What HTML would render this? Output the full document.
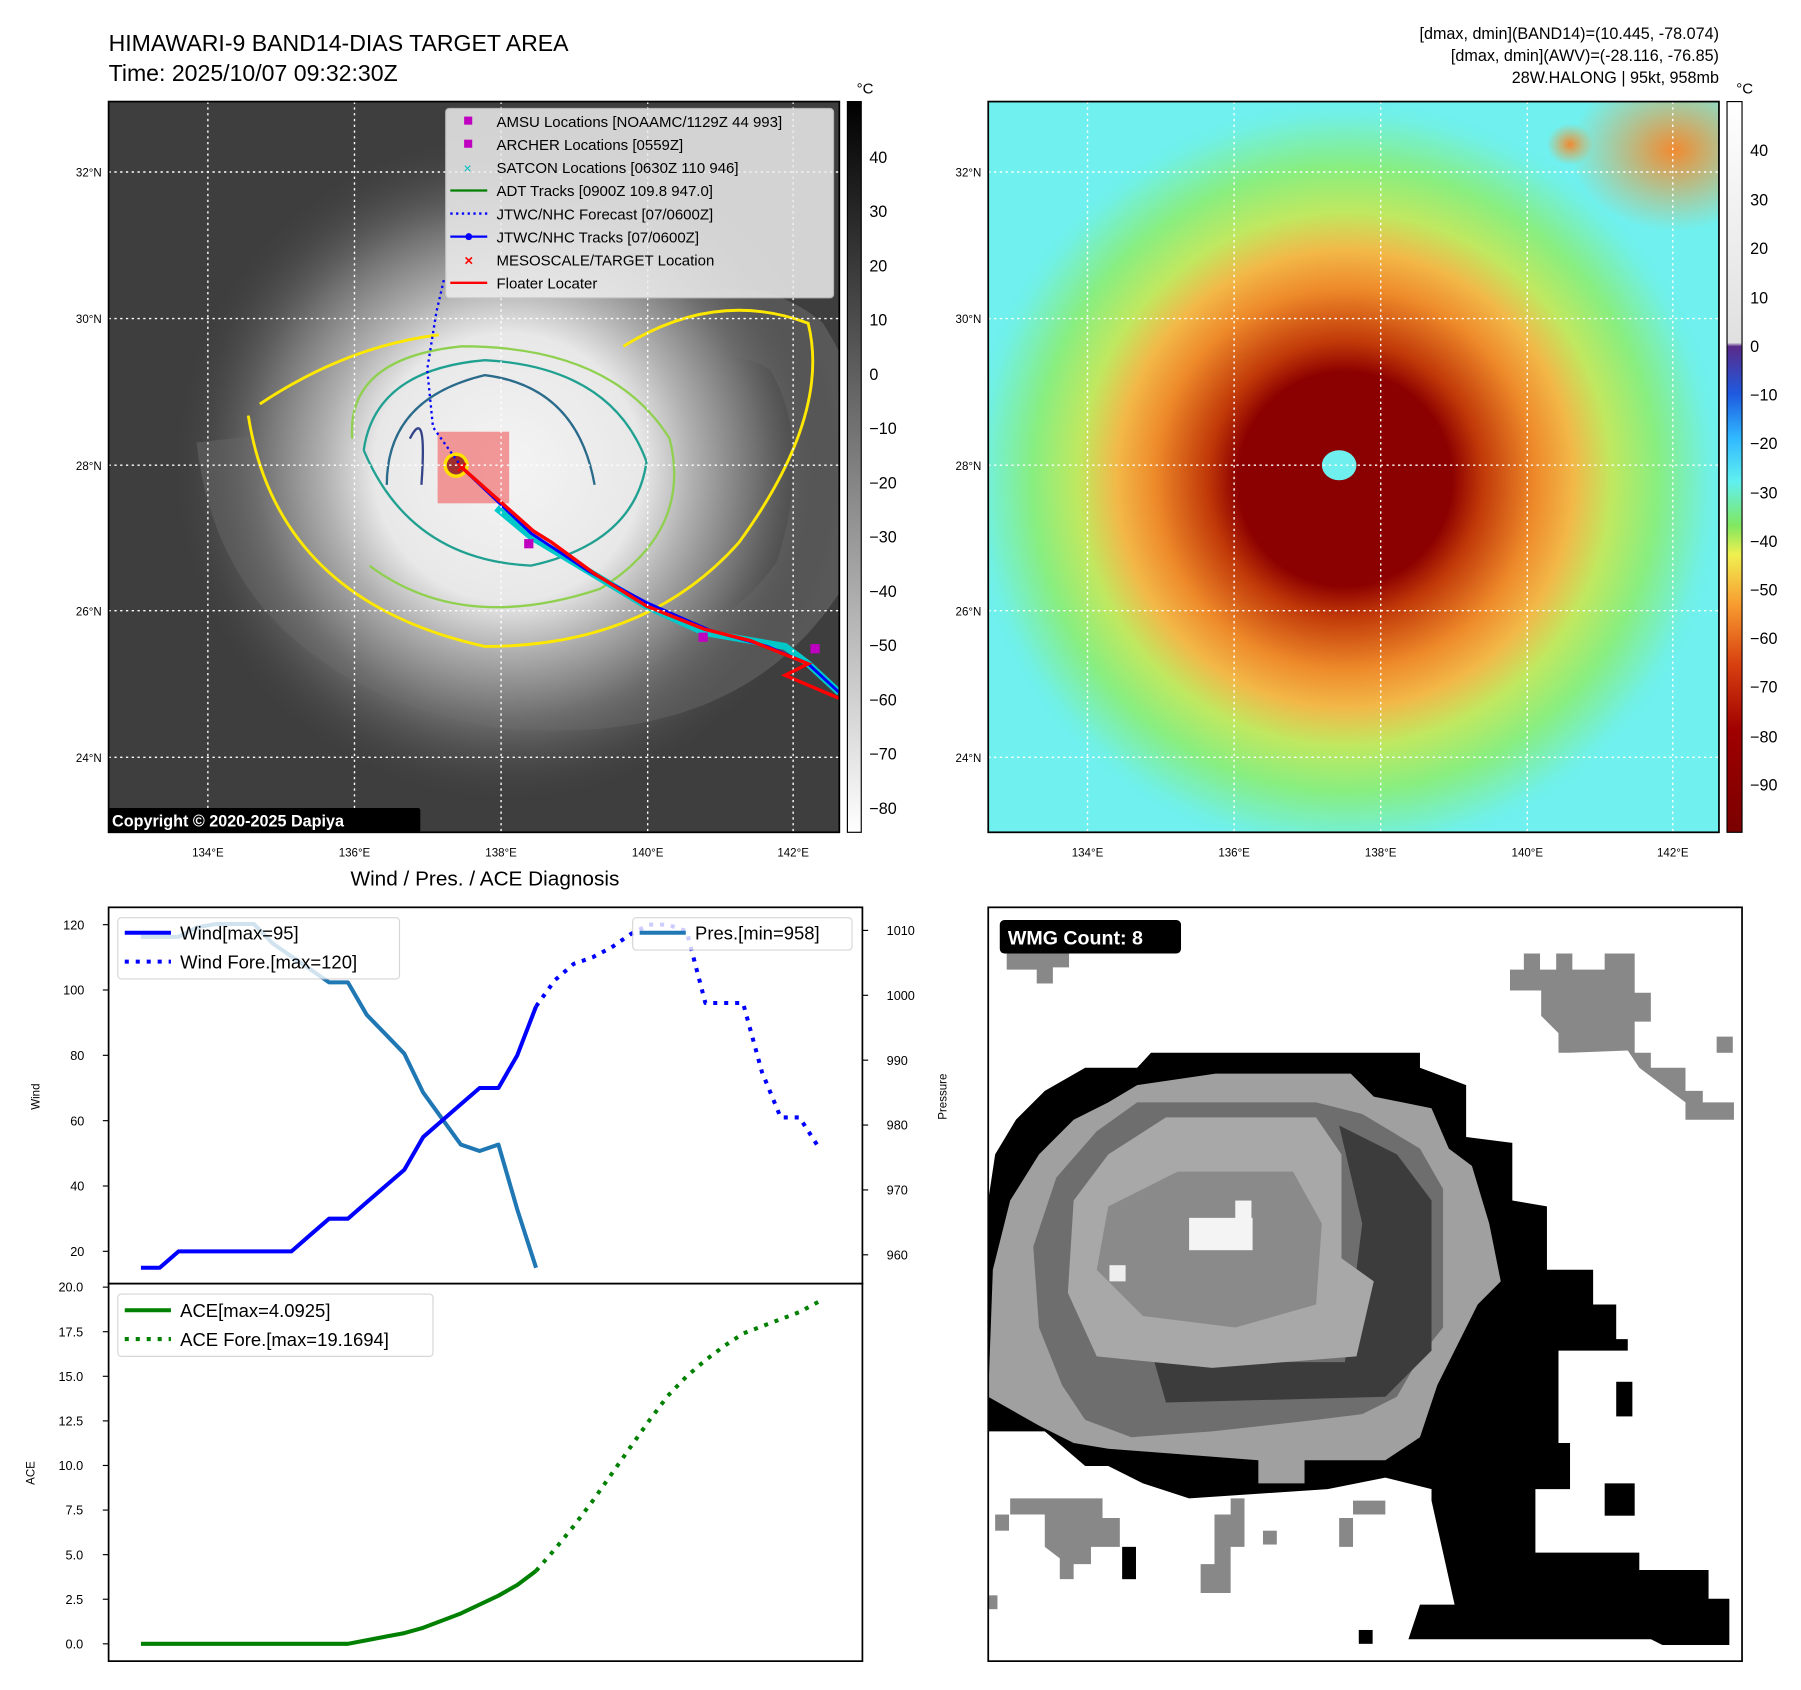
<!DOCTYPE html>
<html><head><meta charset="utf-8"><style>
html,body{margin:0;padding:0;background:#fff}
svg{display:block}
text{font-family:"Liberation Sans","DejaVu Sans",sans-serif}
</style></head><body>
<svg id="fig" width="1801" height="1690" viewBox="0 0 1560 1464" xmlns="http://www.w3.org/2000/svg">
<defs>
<radialGradient id="irL" cx="440" cy="405" r="290" gradientUnits="userSpaceOnUse">
<stop offset="0" stop-color="#f4f4f4"/><stop offset="0.4" stop-color="#e8e8e8"/><stop offset="0.55" stop-color="#b0b0b0"/><stop offset="0.75" stop-color="#6e6e6e"/><stop offset="1" stop-color="#444" stop-opacity="0"/>
</radialGradient>
<radialGradient id="irR" cx="1165" cy="415" r="330" gradientUnits="userSpaceOnUse">
<stop offset="0" stop-color="#8b0000"/><stop offset="0.28" stop-color="#8b0000"/><stop offset="0.36" stop-color="#c03808"/><stop offset="0.5" stop-color="#ee8a2a"/><stop offset="0.6" stop-color="#f2b848"/><stop offset="0.7" stop-color="#c0e860"/><stop offset="0.82" stop-color="#88ee80"/><stop offset="0.95" stop-color="#72f0e0"/><stop offset="1" stop-color="#70f0ee" stop-opacity="0"/>
</radialGradient>
<radialGradient id="orng" cx="0.5" cy="0.5" r="0.5"><stop offset="0" stop-color="#f08a30"/><stop offset="1" stop-color="#f0a040" stop-opacity="0"/></radialGradient>
<linearGradient id="cb1" x1="0" y1="0" x2="0" y2="1"><stop offset="0" stop-color="#000"/><stop offset="1" stop-color="#fff"/></linearGradient>
<linearGradient id="cb2" x1="0" y1="0" x2="0" y2="1">
<stop offset="0" stop-color="#fff"/><stop offset="0.33" stop-color="#e0e0e0"/><stop offset="0.335" stop-color="#5a2a8a"/><stop offset="0.4" stop-color="#1e5ae0"/><stop offset="0.46" stop-color="#30b8ff"/><stop offset="0.52" stop-color="#60f0f0"/><stop offset="0.58" stop-color="#80e860"/><stop offset="0.62" stop-color="#f0f050"/><stop offset="0.69" stop-color="#f89a30"/><stop offset="0.77" stop-color="#d84010"/><stop offset="0.86" stop-color="#a00000"/><stop offset="1" stop-color="#7a0000"/>
</linearGradient>
<clipPath id="clipL"><rect x="94" y="88" width="633" height="633"/></clipPath>
<clipPath id="clipR"><rect x="856" y="88" width="633" height="633"/></clipPath>
</defs>

<text x="94" y="44" font-size="20">HIMAWARI-9 BAND14-DIAS TARGET AREA</text>
<text x="94" y="70" font-size="20">Time: 2025/10/07 09:32:30Z</text>
<g font-size="14" text-anchor="end">
<text x="1489" y="34">[dmax, dmin](BAND14)=(10.445, -78.074)</text>
<text x="1489" y="53">[dmax, dmin](AWV)=(-28.116, -76.85)</text>
<text x="1489" y="72">28W.HALONG | 95kt, 958mb</text>
</g>

<!-- LEFT IR PANEL -->
<g clip-path="url(#clipL)">
<rect x="94" y="88" width="633" height="633" fill="#3e3e3e"/>
<path d="M200 380 Q220 560 430 600 Q620 620 700 500 Q740 380 690 300 Q640 260 560 300" fill="none" stroke="#6a6a6a" stroke-width="60" opacity="0.6"/>
<rect x="94" y="88" width="633" height="633" fill="url(#irL)"/>
<path d="M215 360 Q240 520 420 560 Q560 560 640 470 Q720 360 700 280 Q620 250 540 300" fill="none" stroke="#ffe800" stroke-width="2.5"/>
<path d="M225 350 Q300 300 380 290" fill="none" stroke="#ffe800" stroke-width="2.5"/>
<path d="M305 380 Q300 310 400 300 Q530 300 580 380 Q600 460 520 510 Q400 550 320 490" fill="none" stroke="#90d050" stroke-width="2"/>
<path d="M315 390 Q325 320 420 312 Q530 318 560 400 Q550 470 460 490 Q355 485 315 390" fill="none" stroke="#20a090" stroke-width="2"/>
<path d="M335 420 Q335 345 420 325 Q500 335 515 420" fill="none" stroke="#2a6a8a" stroke-width="2"/>
<path d="M355 380 Q370 350 365 420" fill="none" stroke="#334488" stroke-width="2"/>
<rect x="379" y="374" width="62" height="62" fill="#f08080" opacity="0.8"/>
<circle cx="395" cy="403" r="11" fill="#ffe000"/><circle cx="395" cy="403" r="8" fill="#a03030"/>
<polyline points="400,405 375,370 370,320 378,270 385,240" fill="none" stroke="#00f" stroke-width="2" stroke-dasharray="2,3"/>
<polyline points="430,440 460,465 510,495 560,525 610,548 680,560 700,575 727,600" fill="none" stroke="#00c8c8" stroke-width="6"/>
<polyline points="400,405 460,462 510,495 560,522 615,546 665,560 700,575 727,600" fill="none" stroke="#00f" stroke-width="2.5"/>
<polyline points="400,405 462,460 478,470 515,497 560,525 610,545 650,555 700,575 680,585 727,605" fill="none" stroke="#f00" stroke-width="3"/>
<rect x="454" y="467" width="8" height="8" fill="#c000c0"/><rect x="605" y="548" width="8" height="8" fill="#c000c0"/><rect x="702" y="558" width="8" height="8" fill="#c000c0"/>
<text x="400" y="410" font-size="16" fill="#f00" text-anchor="middle" font-weight="bold">×</text>
<g stroke="#fff" stroke-width="1.2" stroke-dasharray="2,3">
<line x1="180" y1="88" x2="180" y2="721"/><line x1="307" y1="88" x2="307" y2="721"/><line x1="434" y1="88" x2="434" y2="721"/><line x1="561" y1="88" x2="561" y2="721"/><line x1="687" y1="88" x2="687" y2="721"/>
<line x1="94" y1="149" x2="727" y2="149"/><line x1="94" y1="276" x2="727" y2="276"/><line x1="94" y1="403" x2="727" y2="403"/><line x1="94" y1="529" x2="727" y2="529"/><line x1="94" y1="656" x2="727" y2="656"/>
</g>
</g>
<rect x="94" y="88" width="633" height="633" fill="none" stroke="#000" stroke-width="1.5"/>
<g>
<rect x="386" y="94" width="336" height="164" fill="#eee" opacity="0.85" stroke="#ccc" rx="3"/>
<g font-size="13">
<rect x="402" y="101" width="7" height="7" fill="#c000c0"/><text x="430" y="110">AMSU Locations [NOAAMC/1129Z 44 993]</text>
<rect x="402" y="121" width="7" height="7" fill="#c000c0"/><text x="430" y="130">ARCHER Locations [0559Z]</text>
<text x="405" y="150" fill="#00c0c0" font-size="12" text-anchor="middle">×</text><text x="430" y="150">SATCON Locations [0630Z 110 946]</text>
<line x1="390" y1="165" x2="422" y2="165" stroke="green" stroke-width="2"/><text x="430" y="170">ADT Tracks [0900Z 109.8 947.0]</text>
<line x1="390" y1="185" x2="422" y2="185" stroke="#00f" stroke-width="2" stroke-dasharray="2,3"/><text x="430" y="190">JTWC/NHC Forecast [07/0600Z]</text>
<line x1="390" y1="205" x2="422" y2="205" stroke="#00f" stroke-width="2"/><circle cx="406" cy="205" r="3" fill="#00f"/><text x="430" y="210">JTWC/NHC Tracks [07/0600Z]</text>
<text x="406" y="230" fill="#f00" font-weight="bold" text-anchor="middle">×</text><text x="430" y="230">MESOSCALE/TARGET Location</text>
<line x1="390" y1="245" x2="422" y2="245" stroke="#f00" stroke-width="2"/><text x="430" y="250">Floater Locater</text>
</g></g>
<rect x="94" y="700" width="270" height="21" fill="#000" rx="2"/>
<text x="97" y="716" font-size="14" font-weight="bold" fill="#fff">Copyright © 2020-2025 Dapiya</text>
<g font-size="10" text-anchor="end">
<text x="88" y="153">32°N</text><text x="88" y="280">30°N</text><text x="88" y="407">28°N</text><text x="88" y="533">26°N</text><text x="88" y="660">24°N</text></g>
<g font-size="10" text-anchor="middle">
<text x="180" y="742">134°E</text><text x="307" y="742">136°E</text><text x="434" y="742">138°E</text><text x="561" y="742">140°E</text><text x="687" y="742">142°E</text></g>
<rect x="734" y="88" width="12" height="633" fill="url(#cb1)" stroke="#000" stroke-width="1"/>
<text x="742" y="81" font-size="13">°C</text>
<g font-size="14">
<text x="753" y="141">40</text><text x="753" y="188">30</text><text x="753" y="235">20</text><text x="753" y="282">10</text><text x="753" y="329">0</text><text x="753" y="376">−10</text><text x="753" y="423">−20</text><text x="753" y="470">−30</text><text x="753" y="517">−40</text><text x="753" y="564">−50</text><text x="753" y="611">−60</text><text x="753" y="658">−70</text><text x="753" y="705">−80</text></g>

<!-- RIGHT AWV PANEL -->
<g clip-path="url(#clipR)">
<rect x="856" y="88" width="633" height="633" fill="#70f0ee"/>
<rect x="856" y="88" width="633" height="633" fill="url(#irR)"/>
<ellipse cx="1450" cy="130" rx="90" ry="70" fill="url(#orng)"/>
<ellipse cx="1360" cy="125" rx="20" ry="18" fill="url(#orng)"/>
<ellipse cx="1160" cy="403" rx="15" ry="13" fill="#6ff0ee"/>
<g stroke="#fff" stroke-width="1.2" stroke-dasharray="2,3">
<line x1="942" y1="88" x2="942" y2="721"/><line x1="1069" y1="88" x2="1069" y2="721"/><line x1="1196" y1="88" x2="1196" y2="721"/><line x1="1323" y1="88" x2="1323" y2="721"/><line x1="1449" y1="88" x2="1449" y2="721"/>
<line x1="856" y1="149" x2="1489" y2="149"/><line x1="856" y1="276" x2="1489" y2="276"/><line x1="856" y1="403" x2="1489" y2="403"/><line x1="856" y1="529" x2="1489" y2="529"/><line x1="856" y1="656" x2="1489" y2="656"/>
</g></g>
<rect x="856" y="88" width="633" height="633" fill="none" stroke="#000" stroke-width="1.5"/>
<g font-size="10" text-anchor="end">
<text x="850" y="153">32°N</text><text x="850" y="280">30°N</text><text x="850" y="407">28°N</text><text x="850" y="533">26°N</text><text x="850" y="660">24°N</text></g>
<g font-size="10" text-anchor="middle">
<text x="942" y="742">134°E</text><text x="1069" y="742">136°E</text><text x="1196" y="742">138°E</text><text x="1323" y="742">140°E</text><text x="1449" y="742">142°E</text></g>
<rect x="1496" y="88" width="13" height="633" fill="url(#cb2)" stroke="#000" stroke-width="1"/>
<text x="1504" y="81" font-size="13">°C</text>
<g font-size="14">
<text x="1516" y="135">40</text><text x="1516" y="178">30</text><text x="1516" y="220">20</text><text x="1516" y="263">10</text><text x="1516" y="305">0</text><text x="1516" y="347">−10</text><text x="1516" y="389">−20</text><text x="1516" y="432">−30</text><text x="1516" y="474">−40</text><text x="1516" y="516">−50</text><text x="1516" y="558">−60</text><text x="1516" y="600">−70</text><text x="1516" y="643">−80</text><text x="1516" y="685">−90</text></g>

<!-- DIAGNOSIS CHARTS -->
<text x="420" y="767" font-size="18" text-anchor="middle">Wind / Pres. / ACE Diagnosis</text>
<rect x="94" y="786" width="653" height="326" fill="#fff" stroke="#000" stroke-width="1.5"/>
<rect x="94" y="1112" width="653" height="327" fill="#fff" stroke="#000" stroke-width="1.5"/>
<g id="marks"></g>
<text transform="translate(34,950) rotate(-90)" font-size="10" text-anchor="middle">Wind</text>
<text transform="translate(820,950) rotate(-90)" font-size="10" text-anchor="middle">Pressure</text>
<text transform="translate(30,1276) rotate(-90)" font-size="10" text-anchor="middle">ACE</text>
<g>
<rect x="102" y="795" width="244" height="53" fill="#fff" opacity="0.8" stroke="#ccc" rx="3"/>
<line x1="108" y1="808" x2="148" y2="808" stroke="#00f" stroke-width="3.5"/><text x="156" y="814" font-size="16">Wind[max=95]</text>
<line x1="108" y1="833" x2="148" y2="833" stroke="#00f" stroke-width="3.5" stroke-dasharray="3.5,6"/><text x="156" y="839" font-size="16">Wind Fore.[max=120]</text>
</g>
<g>
<rect x="548" y="795" width="190" height="28" fill="#fff" opacity="0.8" stroke="#ccc" rx="3"/>
<line x1="554" y1="808" x2="594" y2="808" stroke="#1f77b4" stroke-width="3.5"/><text x="602" y="814" font-size="16">Pres.[min=958]</text>
</g>
<g>
<rect x="102" y="1121" width="273" height="54" fill="#fff" opacity="0.8" stroke="#ccc" rx="3"/>
<line x1="108" y1="1135" x2="148" y2="1135" stroke="green" stroke-width="3.5"/><text x="156" y="1141" font-size="16">ACE[max=4.0925]</text>
<line x1="108" y1="1160" x2="148" y2="1160" stroke="green" stroke-width="3.5" stroke-dasharray="3.5,6"/><text x="156" y="1166" font-size="16">ACE Fore.[max=19.1694]</text>
</g>

<!-- WMG PANEL -->
<g>
<rect x="856" y="786" width="653" height="653" fill="#fff"/>
<polygon fill="#000" points="997,912 1230,912 1230,925 1270,940 1270,985 1310,990 1310,1040 1340,1045 1340,1100 1380,1100 1380,1130 1400,1130 1400,1160 1410,1160 1410,1170 1350,1170 1350,1250 1360,1250 1360,1290 1330,1290 1330,1345 1380,1345 1420,1345 1420,1360 1480,1360 1480,1385 1498,1385 1498,1425 1440,1425 1430,1420 1380,1420 1220,1420 1230,1390 1260,1390 1240,1300 1240,1290 1200,1280 1150,1290 1030,1298 990,1285 960,1270 940,1270 905,1240 856,1240 856,1040 862,1000 880,970 905,945 940,925 985,925"/>
<polygon fill="#a0a0a0" points="1053,930 1170,930 1190,950 1240,960 1255,995 1275,1010 1290,1060 1300,1110 1280,1130 1260,1170 1245,1200 1230,1245 1200,1265 1130,1265 1130,1285 1090,1285 1090,1265 960,1255 930,1250 900,1235 856,1210 860,1100 875,1040 900,1000 930,970 960,955 985,940"/>
<polygon fill="#6e6e6e" points="985,955 1140,955 1180,965 1230,995 1250,1030 1250,1150 1230,1175 1210,1210 1180,1225 1140,1230 1050,1240 980,1245 940,1230 920,1200 900,1150 895,1080 915,1020 950,980"/>
<polygon fill="#3c3c3c" points="1160,975 1210,1000 1240,1040 1240,1170 1200,1210 1010,1215 1000,1180 1165,1180 1180,1060"/>
<polygon fill="#a8a8a8" points="1010,968 1140,968 1162,1000 1162,1090 1190,1110 1175,1175 1050,1185 950,1175 925,1120 930,1040 960,1000"/>
<polygon fill="#8a8a8a" points="1020,1015 1120,1015 1145,1060 1140,1130 1070,1150 990,1140 950,1100 960,1045"/>
<rect x="1030" y="1055" width="55" height="28" fill="#f4f4f4"/><rect x="1070" y="1040" width="14" height="20" fill="#f4f4f4"/>
<rect x="961" y="1096" width="14" height="14" fill="#eee"/>
<polygon fill="#888" points="1308,840 1320,840 1320,826 1334,826 1334,840 1348,840 1348,826 1362,826 1362,840 1390,840 1390,826 1416,826 1416,860 1430,860 1430,885 1416,885 1416,912 1430,912 1430,925 1460,925 1460,945 1475,945 1475,955 1502,955 1502,970 1460,970 1460,955 1440,940 1420,925 1410,910 1360,912 1350,912 1350,895 1335,880 1335,858 1308,858"/>
<rect x="1487" y="898" width="14" height="14" fill="#888"/>
<polygon fill="#888" points="872,826 926,826 926,838 912,838 912,852 898,852 898,840 872,840"/>
<polygon fill="#888" points="875,1298 955,1298 955,1315 970,1315 970,1340 945,1340 945,1355 930,1355 930,1368 918,1368 918,1350 905,1340 905,1312 875,1312"/>
<polygon fill="#888" points="1052,1312 1066,1312 1066,1298 1078,1298 1078,1340 1066,1340 1066,1380 1040,1380 1040,1355 1052,1355"/>
<polygon fill="#888" points="1172,1300 1200,1300 1200,1312 1172,1312 1172,1340 1160,1340 1160,1315 1172,1315"/>
<rect x="1094" y="1326" width="12" height="12" fill="#888"/><rect x="862" y="1312" width="12" height="14" fill="#888"/>
<rect x="972" y="1340" width="12" height="28" fill="#000"/><rect x="1390" y="1285" width="26" height="28" fill="#000"/><rect x="1400" y="1197" width="14" height="30" fill="#000"/><rect x="1177" y="1412" width="12" height="12" fill="#000"/>
<rect x="856" y="1382" width="8" height="12" fill="#888"/>
</g>
<rect x="856" y="786" width="653" height="653" fill="none" stroke="#000" stroke-width="1.5"/>
<rect x="866" y="797" width="157" height="29" rx="4" fill="#000"/>
<text x="873" y="818" font-size="17" font-weight="bold" fill="#fff">WMG Count: 8</text>
</svg>
<script>
const windObs=[15,15,20,20,20,20,20,20,20,25,30,30,35,40,45,55,60,65,70,70,80,95];
const windFcst=[95,103,108,110,113,117,120,120,118,96,96,96,75,61,61,52];
const presObs=[1009,1009,1009,1010.5,1011,1011,1011,1008,1006,1004,1002,1002,997,994,991,985,981,977,976,977,967,958];
const aceObs=[0,0,0,0,0,0,0,0,0,0,0,0,0.2,0.4,0.6,0.9,1.3,1.7,2.2,2.7,3.3,4.0925];
const aceFcst=[4.0925,5.3,6.6,8.0,9.5,11.0,12.5,13.9,15.0,15.9,16.7,17.4,17.8,18.2,18.6,19.1694];
const windTicks=[20,40,60,80,100,120];
const presTicks=[960,970,980,990,1000,1010];
const aceTicks=[0,2.5,5,7.5,10,12.5,15,17.5,20];
const fcstStart=21;
const NS='http://www.w3.org/2000/svg';
const g=document.getElementById('marks');
function xPos(i){return 122+16.3*i;}
function yWind(v){return 801+(120-v)*2.83;}
function yPres(p){return 806+(1010-p)*5.62;}
function yAce(a){return 1424-a*15.45;}
function line(vals,off,yf,color,dash,name){
  const p=document.createElementNS(NS,'polyline');
  p.setAttribute('points',vals.map((v,i)=>xPos(i+off).toFixed(1)+','+yf(v).toFixed(1)).join(' '));
  p.setAttribute('fill','none');p.setAttribute('stroke',color);p.setAttribute('stroke-width','3.5');
  p.setAttribute('stroke-linejoin','round');
  if(dash)p.setAttribute('stroke-dasharray',dash);
  
  
  g.appendChild(p);
}
function tick(x1,y,x2,label,tx,anchor,name){
  const l=document.createElementNS(NS,'line');
  l.setAttribute('x1',x1);l.setAttribute('x2',x2);l.setAttribute('y1',y);l.setAttribute('y2',y);l.setAttribute('stroke','#000');
  
  
  g.appendChild(l);
  const t=document.createElementNS(NS,'text');
  t.setAttribute('x',tx);t.setAttribute('y',y+4);t.setAttribute('font-size','11');t.setAttribute('text-anchor',anchor);
  t.textContent=label;
  
  
  g.appendChild(t);
}
windTicks.forEach(v=>tick(89,yWind(v),94,String(v),73,'end','wind-tick'));
presTicks.forEach(v=>tick(747,yPres(v),752,String(v),768,'start','pressure-tick'));
aceTicks.forEach(v=>tick(89,yAce(v),94,v.toFixed(1),72,'end','ace-tick'));
line(presObs,0,yPres,'#1f77b4',null,'pressure-line');
line(windObs,0,yWind,'#0000ff',null,'wind-line');
line(windFcst,fcstStart,yWind,'#0000ff','3.5,6','wind-forecast-line');
line(aceObs,0,yAce,'#008000',null,'ace-line');
line(aceFcst,fcstStart,yAce,'#008000','3.5,6','ace-forecast-line');
</script>
</body></html>
